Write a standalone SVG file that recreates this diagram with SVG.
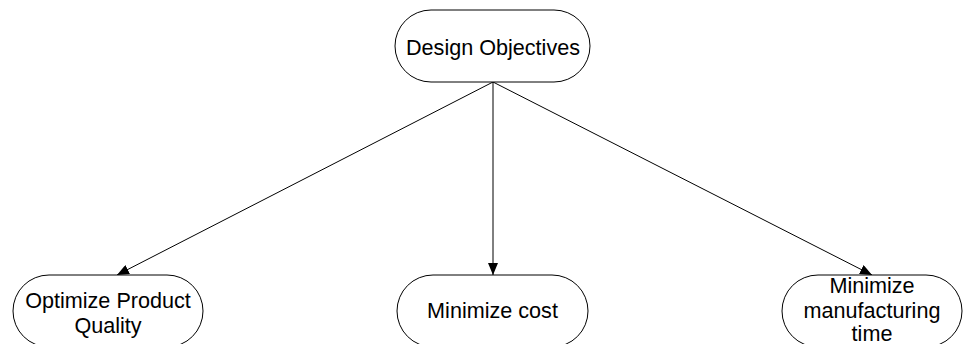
<svg xmlns="http://www.w3.org/2000/svg" width="964" height="344" viewBox="0 0 964 344">
<style>
.node{fill:#fff;stroke:#000;stroke-width:1}
.lbl{font-family:"Liberation Sans",Arial,sans-serif;font-size:21.6px;fill:#000;text-anchor:middle;dominant-baseline:central}
.edge{stroke:#000;stroke-width:1;fill:none;marker-end:url(#arr)}
</style>
<defs>
<marker id="arr" viewBox="0 0 12 10" refX="12" refY="5" markerWidth="12" markerHeight="10" markerUnits="userSpaceOnUse" orient="auto">
<path d="M0,0 L12,5 L0,10 z" fill="#000"/>
</marker>
</defs>
<rect width="964" height="344" fill="#fff"/>
<g id="connectors">
<line class="edge" x1="493" y1="82" x2="117" y2="275"/>
<line class="edge" x1="493" y1="82" x2="493" y2="275"/>
<line class="edge" x1="493" y1="82" x2="872" y2="275"/>
</g>
<g id="design-objectives">
<rect class="node" x="395" y="10" width="195" height="72" rx="36" ry="36"/>
<text class="lbl" x="493" y="47">Design Objectives</text>
</g>
<g id="optimize-quality">
<rect class="node" x="13" y="275" width="190" height="72" rx="36" ry="36"/>
<text class="lbl" x="108" y="300">Optimize Product</text>
<text class="lbl" x="108" y="325">Quality</text>
</g>
<g id="minimize-cost">
<rect class="node" x="397" y="275" width="191" height="72" rx="36" ry="36"/>
<text class="lbl" x="492.5" y="310">Minimize cost</text>
</g>
<g id="minimize-time">
<rect class="node" x="782" y="275" width="180" height="72" rx="36" ry="36"/>
<text class="lbl" x="872" y="285">Minimize</text>
<text class="lbl" x="872" y="310">manufacturing</text>
<text class="lbl" x="872" y="333">time</text>
</g>
</svg>
